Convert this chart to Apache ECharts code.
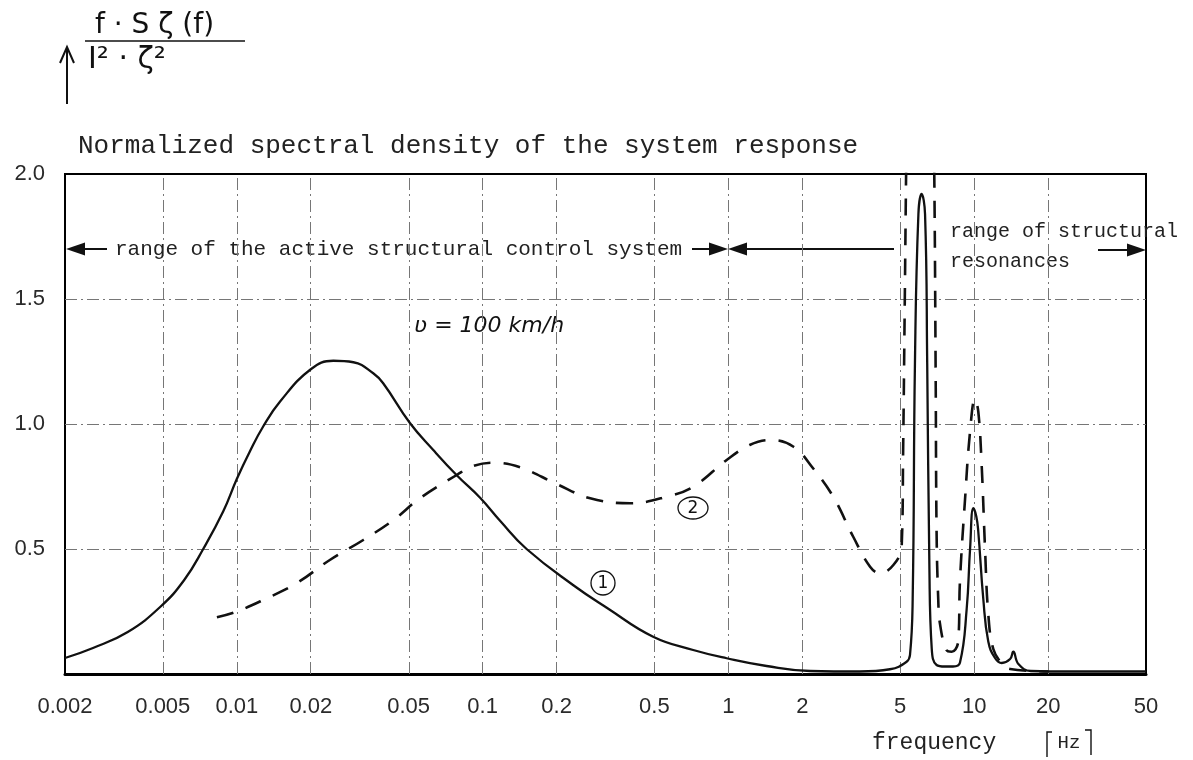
<!DOCTYPE html>
<html>
<head>
<meta charset="utf-8">
<script src="https://cdn.jsdelivr.net/npm/echarts@6/dist/echarts.min.js"></script>
<style>
  html, body { margin: 0; padding: 0; background: #fff; }
  #chart { width: 1193px; height: 760px; }
</style>
</head>
<body>
<div id="chart"></div>
<script>
// Frequency ticks (Hz) and their printed labels
const FREQ_TICKS = [0.002, 0.005, 0.01, 0.02, 0.05, 0.1, 0.2, 0.5, 1, 2, 5, 10, 20, 50];
const FREQ_TICK_LABELS = ['0.002', '0.005', '0.01', '0.02', '0.05', '0.1', '0.2', '0.5', '1', '2', '5', '10', '20', '50'];

// Normalized spectral density ticks
const DENSITY_TICKS = [0, 0.5, 1.0, 1.5, 2.0];
const DENSITY_TICK_LABELS = ['', '0.5', '1.0', '1.5', '2.0'];

// Curve 1 (solid)
const FREQ_CURVE_1 = [0.002, 0.0026, 0.0036, 0.0049, 0.0061, 0.0073, 0.0088, 0.0100, 0.0113, 0.0128,
  0.0150, 0.0200, 0.0247, 0.0298, 0.0359, 0.0394, 0.0507, 0.0630, 0.0785, 0.0977,
  0.118, 0.151, 0.234, 0.320, 0.494, 0.719, 0.984, 1.43, 2.15, 3.43,
  4.54, 5.31, 5.48, 5.62, 5.74, 5.93, 6.11, 6.31, 6.44, 6.57,
  6.72, 7.03, 7.6, 8.2, 8.75, 9.32, 9.62, 9.92, 10.2, 10.39,
  10.89, 11.41, 12.15, 12.95, 14.0, 14.43, 15.13, 17.0, 25.0, 50.0];
const DENSITY_CURVE_1 = [0.064, 0.104, 0.168, 0.270, 0.375, 0.500, 0.650, 0.780, 0.890, 0.990,
  1.090, 1.219, 1.253, 1.247, 1.203, 1.163, 1.003, 0.896, 0.795, 0.705,
  0.612, 0.500, 0.355, 0.265, 0.149, 0.096, 0.063, 0.032, 0.012, 0.010,
  0.019, 0.049, 0.076, 0.30, 1.24, 1.84, 1.92, 1.84, 1.24, 0.44,
  0.10, 0.036, 0.030, 0.030, 0.045, 0.26, 0.50, 0.663, 0.63, 0.57,
  0.30, 0.13, 0.064, 0.044, 0.060, 0.089, 0.040, 0.012, 0.010, 0.010];

// Curve 2 (dashed)
const FREQ_CURVE_2 = [0.0083, 0.0100, 0.0128, 0.0175, 0.0239, 0.0327, 0.0434, 0.0556, 0.0785, 0.0917,
  0.111, 0.142, 0.200, 0.274, 0.398, 0.561, 0.719, 0.984, 1.22, 1.48,
  1.84, 2.21, 2.67, 3.22, 3.77, 4.14, 4.69, 5.07, 5.14, 5.22,
  5.30, 5.40, 5.70, 6.10, 6.50, 6.75, 6.88, 6.97, 7.03, 7.14,
  7.26, 7.71, 8.10, 8.61, 8.75, 9.18, 9.62, 10.07, 10.39, 10.72,
  11.07, 11.41, 11.96, 13.0, 14.0, 20.0];
const DENSITY_CURVE_2 = [0.227, 0.250, 0.296, 0.363, 0.456, 0.536, 0.616, 0.703, 0.796, 0.832,
  0.845, 0.827, 0.760, 0.703, 0.683, 0.709, 0.749, 0.856, 0.916, 0.936,
  0.909, 0.823, 0.709, 0.549, 0.429, 0.403, 0.436, 0.510, 0.90, 1.50,
  2.10, 2.60, 3.40, 3.60, 3.40, 2.60, 2.00, 1.20, 0.57, 0.30,
  0.20, 0.096, 0.089, 0.13, 0.37, 0.70, 0.97, 1.10, 1.05, 0.84,
  0.50, 0.24, 0.10, 0.04, 0.02, 0.01];

// The frequency axis is logarithmic: positions are log10(f) on a value axis
const LOG_TICKS = FREQ_TICKS.map(Math.log10);
const toPoints = (freqs, vals) => freqs.map((f, i) => [Math.log10(f), vals[i]]);

const INK = '#111';
const GRID_INK = '#767676';
const MONO = '"Liberation Mono", "DejaVu Sans Mono", monospace';
const SANS = '"Liberation Sans", "DejaVu Sans", sans-serif';

const chart = echarts.init(document.getElementById('chart'), null, { renderer: 'canvas' });

// Inner grid lines (dash-dot), the frame itself is the grid border
const gridLines = [
  ...FREQ_TICKS.slice(1, -1).map(f => ({ xAxis: Math.log10(f) })),
  ...DENSITY_TICKS.slice(1, -1).map(v => ({ yAxis: v }))
];

const arrowHead = (tipX, y, dir) => ({
  type: 'polygon',
  shape: { points: [[tipX, y], [tipX - dir * 19, y - 6.5], [tipX - dir * 19, y + 6.5]] },
  style: { fill: INK }
});
const hLine = (x1, x2, y, w) => ({
  type: 'line', shape: { x1, y1: y, x2, y2: y }, style: { stroke: INK, lineWidth: w || 2 }
});
const label = (x, y, text, font, extra) => ({
  type: 'text', x, y,
  style: Object.assign({ text, font, fill: INK, verticalAlign: 'middle', align: 'left' }, extra || {})
});

const option = {
  animation: false,
  backgroundColor: '#fff',
  grid: {
    left: 65, right: 47, top: 174, bottom: 86,
    show: true, borderColor: '#000', borderWidth: 2, backgroundColor: 'transparent'
  },
  xAxis: {
    type: 'value',
    min: Math.log10(FREQ_TICKS[0]),
    max: Math.log10(FREQ_TICKS[FREQ_TICKS.length - 1]),
    axisLine: { show: true, onZero: false, lineStyle: { color: '#000', width: 3 } },
    axisTick: { show: false },
    splitLine: { show: false },
    axisLabel: {
      customValues: LOG_TICKS,
      margin: 22,
      color: '#2a2a2a',
      fontFamily: SANS,
      fontSize: 22,
      formatter: v => {
        const i = LOG_TICKS.findIndex(t => Math.abs(t - v) < 1e-6);
        return i < 0 ? '' : FREQ_TICK_LABELS[i];
      }
    }
  },
  yAxis: {
    type: 'value',
    min: 0, max: 2, interval: 0.5,
    axisLine: { show: true, onZero: false, lineStyle: { color: '#000', width: 2 } },
    axisTick: { show: false },
    splitLine: { show: false },
    axisLabel: {
      margin: 20,
      color: '#2a2a2a',
      fontFamily: SANS,
      fontSize: 22,
      formatter: v => {
        const i = DENSITY_TICKS.findIndex(t => Math.abs(t - v) < 1e-6);
        return i < 0 ? '' : DENSITY_TICK_LABELS[i];
      }
    }
  },
  series: [
    {
      name: 'curve 1',
      type: 'line',
      data: toPoints(FREQ_CURVE_1, DENSITY_CURVE_1),
      showSymbol: false,
      smooth: 0.45,
      clip: true,
      lineStyle: { color: INK, width: 2.3 },
      z: 3,
      markLine: {
        silent: true,
        symbol: ['none', 'none'],
        label: { show: false },
        lineStyle: { color: GRID_INK, width: 1, type: [12, 4, 2, 4] },
        data: gridLines,
        z: 1
      }
    },
    {
      name: 'curve 2',
      type: 'line',
      data: toPoints(FREQ_CURVE_2, DENSITY_CURVE_2),
      showSymbol: false,
      smooth: 0.4,
      clip: true,
      lineStyle: { color: INK, width: 2.6, type: [17, 13] },
      z: 4
    }
  ],
  graphic: [
    // quantity plotted upward: f·Sζ(f) / (I²·ζ²)
    { type: 'line', shape: { x1: 67, y1: 104, x2: 67, y2: 49 }, style: { stroke: INK, lineWidth: 2 } },
    { type: 'polyline', shape: { points: [[60, 63], [67, 47], [74, 63]] }, style: { stroke: INK, lineWidth: 2, fill: null } },
    label(95, 26, 'f · S ζ (f)', '28px "DejaVu Sans", sans-serif'),
    { type: 'line', shape: { x1: 85, y1: 41, x2: 245, y2: 41 }, style: { stroke: INK, lineWidth: 1.6 } },
    label(88, 60, 'I² · ζ²', '30px "DejaVu Sans", sans-serif'),

    // chart heading
    label(78, 146, 'Normalized spectral density of the system response', '26px ' + MONO, { fill: '#222' }),

    // range of the active structural control system
    arrowHead(66, 249, -1),
    hLine(82, 107, 249),
    label(115, 249, 'range of the active structural control system', '21px ' + MONO, { fill: '#222' }),
    hLine(692, 712, 249),
    arrowHead(728, 249, 1),
    arrowHead(728, 249, -1),
    hLine(745, 894, 249),

    // range of structural resonances
    label(950, 232, 'range of structural', '20px ' + MONO, { fill: '#222' }),
    label(950, 262, 'resonances', '20px ' + MONO, { fill: '#222' }),
    hLine(1098, 1130, 250),
    arrowHead(1146, 250, 1),

    // vehicle speed
    label(414, 326, 'ʋ = 100 km/h', 'italic 22px "DejaVu Sans", sans-serif'),

    // curve markers
    { type: 'ellipse', shape: { cx: 693, cy: 508, rx: 15, ry: 11 }, style: { stroke: INK, fill: 'none', lineWidth: 1.3 } },
    label(693, 509, '2', '17px "DejaVu Sans", sans-serif', { align: 'center' }),
    { type: 'circle', shape: { cx: 603, cy: 583, r: 12 }, style: { stroke: INK, fill: 'none', lineWidth: 1.3 } },
    label(603, 584, '1', '17px "DejaVu Sans", sans-serif', { align: 'center' }),

    // frequency axis name and unit
    label(872, 743, 'frequency', '23px ' + MONO, { fill: '#222' }),
    { type: 'polyline', shape: { points: [[1052, 732], [1047, 732], [1047, 757]] }, style: { stroke: INK, lineWidth: 1.4, fill: null } },
    label(1069, 743, 'Hz', '19px ' + MONO, { align: 'center', fill: '#222' }),
    { type: 'polyline', shape: { points: [[1085, 730], [1091, 730], [1091, 755]] }, style: { stroke: INK, lineWidth: 1.4, fill: null } }
  ]
};

chart.setOption(option);
</script>
</body>
</html>
